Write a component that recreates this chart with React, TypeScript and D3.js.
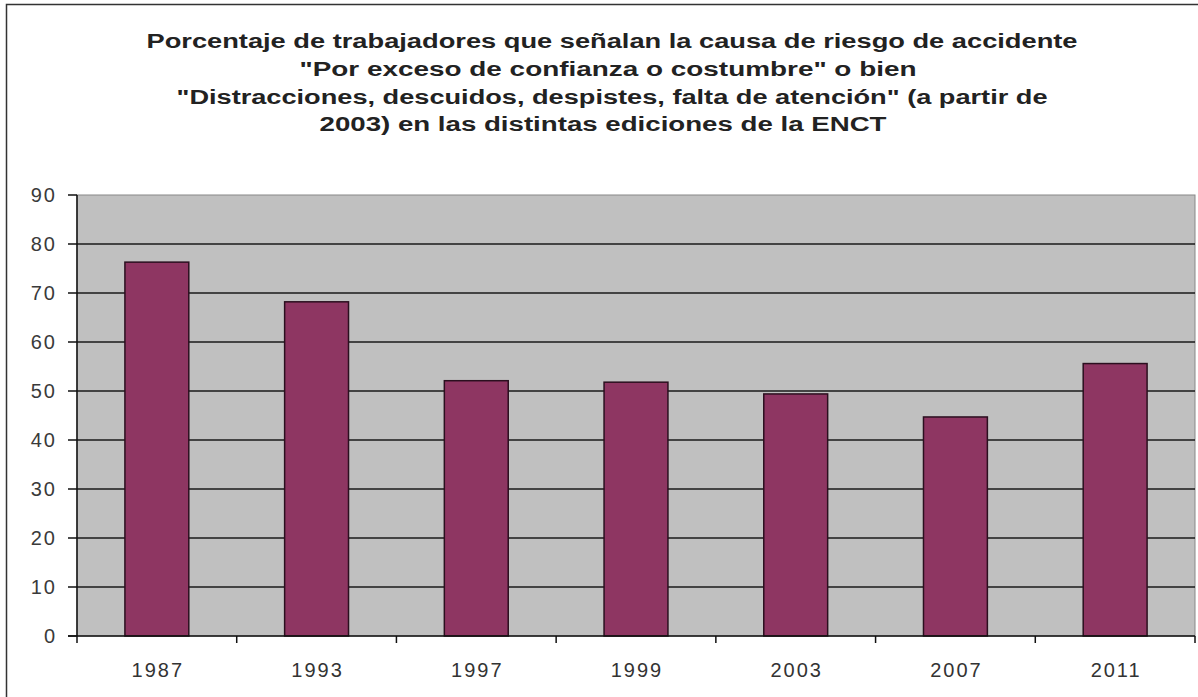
import React from "react";
import * as d3 from "d3";

const years: string[] = ["1987", "1993", "1997", "1999", "2003", "2007", "2011"];
const values: number[] = [76.3, 68.2, 52.1, 51.8, 49.4, 44.7, 55.6];
const yTicks: number[] = [0, 10, 20, 30, 40, 50, 60, 70, 80, 90];
const titleLines: string[] = [
  "Porcentaje de trabajadores que señalan la causa de riesgo de accidente",
  "\"Por exceso de confianza o costumbre\"  o bien",
  "\"Distracciones, descuidos, despistes, falta de atención\" (a partir de",
  "2003) en las distintas ediciones de la ENCT",
];
const titleWidths: number[] = [931, 617, 871, 567];
const titleCenters: number[] = [612, 608, 612, 603];

export default function App() {
  const W = 1198;
  const H = 697;
  const left = 77;
  const right = 1195;
  const top = 195;
  const bottom = 636;

  const x = d3.scaleBand<string>().domain(years).range([left, right]).paddingInner(0.6).paddingOuter(0.3);
  const band = d3.scaleBand<string>().domain(years).range([left, right]).padding(0);
  const y = d3.scaleLinear().domain([0, 90]).range([bottom, top]);

  const font = "Arial, 'Liberation Sans', sans-serif";
  const titleBaselines = [48, 76, 104, 131];

  return (
    <svg
      width={W}
      height={H}
      style={{ position: "absolute", left: 0, top: 0, background: "#fff" }}
    >
      <rect x={6.5} y={4.5} width={W + 10} height={H + 10} fill="#fff" stroke="#333" strokeWidth={1.5} />
      {titleLines.map((t, i) => (
        <text
          key={i}
          x={titleCenters[i]}
          y={titleBaselines[i]}
          textAnchor="middle"
          fontFamily={font}
          fontWeight="bold"
          fontSize={20}
          fill="#222"
          textLength={titleWidths[i]}
          lengthAdjust="spacingAndGlyphs"
        >
          {t}
        </text>
      ))}
      <rect x={left} y={top} width={right - left} height={bottom - top} fill="#c0c0c0" stroke="#888" strokeWidth={1} />
      {yTicks.filter((v) => v > 0 && v < 90).map((v) => (
        <line key={v} x1={left} x2={right} y1={y(v)} y2={y(v)} stroke="#1a1a1a" strokeWidth={1.5} />
      ))}
      {years.map((yr, i) => (
        <rect
          key={yr}
          x={x(yr)!}
          y={y(values[i])}
          width={x.bandwidth()}
          height={bottom - y(values[i])}
          fill="#8e3662"
          stroke="#2b0f1f"
          strokeWidth={1.5}
        />
      ))}
      <line x1={left} x2={left} y1={top} y2={bottom} stroke="#111" strokeWidth={1.5} />
      <line x1={left - 9} x2={right} y1={bottom} y2={bottom} stroke="#111" strokeWidth={1.5} />
      {yTicks.map((v) => (
        <g key={v}>
          <line x1={left - 9} x2={left} y1={y(v)} y2={y(v)} stroke="#111" strokeWidth={1.5} />
          <text
            x={57}
            y={y(v) + 7}
            textAnchor="end"
            fontFamily={font}
            fontSize={20}
            letterSpacing={2}
            fill="#3a3a3a"
          >
            {v}
          </text>
        </g>
      ))}
      {years.map((yr) => (
        <g key={yr}>
          <line
            x1={band(yr)! + band.bandwidth()}
            x2={band(yr)! + band.bandwidth()}
            y1={bottom}
            y2={bottom + 7}
            stroke="#111"
            strokeWidth={1.5}
          />
          <text
            x={band(yr)! + band.bandwidth() / 2 + 1}
            y={677}
            textAnchor="middle"
            fontFamily={font}
            fontSize={20}
            letterSpacing={2}
            fill="#333"
          >
            {yr}
          </text>
        </g>
      ))}
      <line x1={left} x2={left} y1={bottom} y2={bottom + 7} stroke="#111" strokeWidth={1.5} />
    </svg>
  );
}
